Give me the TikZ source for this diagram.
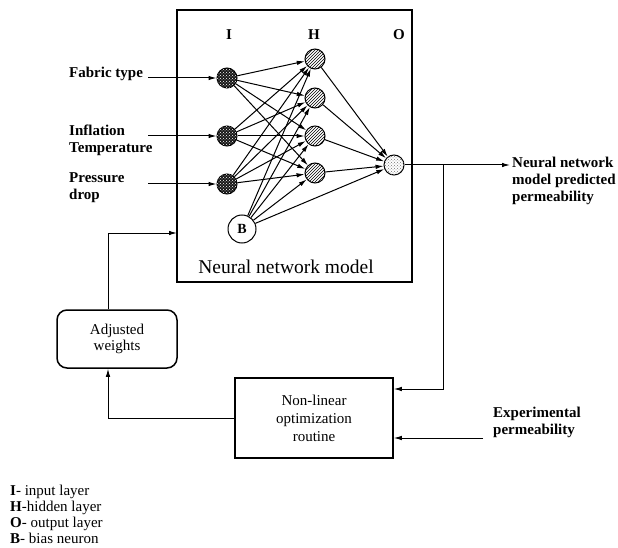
\documentclass[tikz,border=0pt]{standalone}
\usepackage{fontspec}
\setmainfont{Liberation Serif}
\usetikzlibrary{arrows.meta,patterns,calc}

\tikzset{
  conn/.style={line width=1pt,-{Latex[length=8pt,width=4.5pt]}},
  neuron/.style={circle,draw,line width=1pt,minimum size=20pt,inner sep=0pt},
  inneuron/.style={neuron,fill=black!90,postaction={pattern=crosshatch dots,pattern color=white}},
  hidneuron/.style={neuron,fill=white,postaction={pattern=north east lines,pattern color=black}},
  outneuron/.style={neuron,fill=white,postaction={pattern=crosshatch dots,pattern color=black!55}},
  txt/.style={font=\fontsize{15}{17}\selectfont,inner sep=0pt},
  btxt/.style={txt,font=\fontsize{15}{17}\selectfont\bfseries,align=left,anchor=north west},
}

\begin{document}
\begin{tikzpicture}[x=1pt,y=-1pt]
  \useasboundingbox (0,0) rectangle (618,548);
  % model box
  \node[draw,line width=1.5pt,minimum width=235pt,minimum height=272pt,inner sep=0pt] (nnbox) at (294.5,146) {};
  \node[txt,font=\fontsize{19.5}{22}\selectfont] (nnlabel) at (286,267) {Neural network model};
  % layer letters
  \node[txt,font=\fontsize{15}{17}\selectfont\bfseries] (lI) at (229,35) {I};
  \node[txt,font=\fontsize{15}{17}\selectfont\bfseries] (lH) at (314,35) {H};
  \node[txt,font=\fontsize{15}{17}\selectfont\bfseries] (lO) at (399,35) {O};
  % neurons
  \node[inneuron] (i1) at (227,78) {};
  \node[inneuron] (i2) at (227,136) {};
  \node[inneuron] (i3) at (227,184) {};
  \node[hidneuron] (h1) at (315,59) {};
  \node[hidneuron] (h2) at (315,98) {};
  \node[hidneuron] (h3) at (315,136) {};
  \node[hidneuron] (h4) at (315,173) {};
  \node[outneuron] (o) at (394,165) {};
  \node[neuron,minimum size=28pt,txt,font=\fontsize{14}{16}\selectfont\bfseries,draw,line width=1pt] (b) at (242,229) {B};
  % weights
  \foreach \i in {1,2,3}
    \foreach \h in {1,2,3,4}
      \draw[conn] (i\i) -- (h\h);
  \foreach \h in {1,2,3,4} {
    \draw[conn] (b) -- (h\h);
    \draw[conn] (h\h) -- (o);
  }
  \draw[conn] (b) -- (o);
  % inputs
  \node[btxt] (fabric) at (69,67) {Fabric type};
  \node[btxt] (infl) at (69,125) {Inflation\\Temperature};
  \node[btxt] (press) at (69,172) {Pressure\\drop};
  \coordinate (s1) at (148,78);
  \coordinate (s2) at (148,136);
  \coordinate (s3) at (148,184);
  \draw[conn] (s1) -- (i1);
  \draw[conn] (s2) -- (i2);
  \draw[conn] (s3) -- (i3);
  % output
  \coordinate (outend) at (510,165);
  \coordinate (split) at (443,165);
  \draw[conn] (o) -- (outend);
  \node[btxt] (predicted) at (512,157) {Neural network\\model predicted\\permeability};
  % training loop
  \node[draw,line width=1.5pt,minimum width=158pt,minimum height=80pt,txt,align=center,
        font=\fontsize{15}{18}\selectfont] (opt) at (314,418) {Non-linear\\optimization\\routine};
  \node[draw,line width=1.5pt,rounded corners=10pt,minimum width=120pt,minimum height=58pt,txt,align=center,
        font=\fontsize{15}{16}\selectfont] (adj) at (117,339) {Adjusted\\weights};
  \draw[conn] (split) |- ([yshift=29pt]opt.east);
  \node[btxt] (exper) at (493,407) {Experimental\\permeability};
  \coordinate (expstart) at (483,438);
  \draw[conn] (expstart) -- (expstart -| opt.east);
  \draw[conn] (opt.west) -| ([xshift=-9pt]adj.south);
  \coordinate (nnin) at (177,233);
  \draw[conn] ([xshift=-9pt]adj.north) |- (nnin);
  % legend
  \node[txt,align=left,anchor=north west,font=\fontsize{15}{16}\selectfont] (legend) at (10,485)
    {\textbf{I}- input layer\\\textbf{H}-hidden layer\\\textbf{O}- output layer\\\textbf{B}- bias neuron};
\end{tikzpicture}
\end{document}
